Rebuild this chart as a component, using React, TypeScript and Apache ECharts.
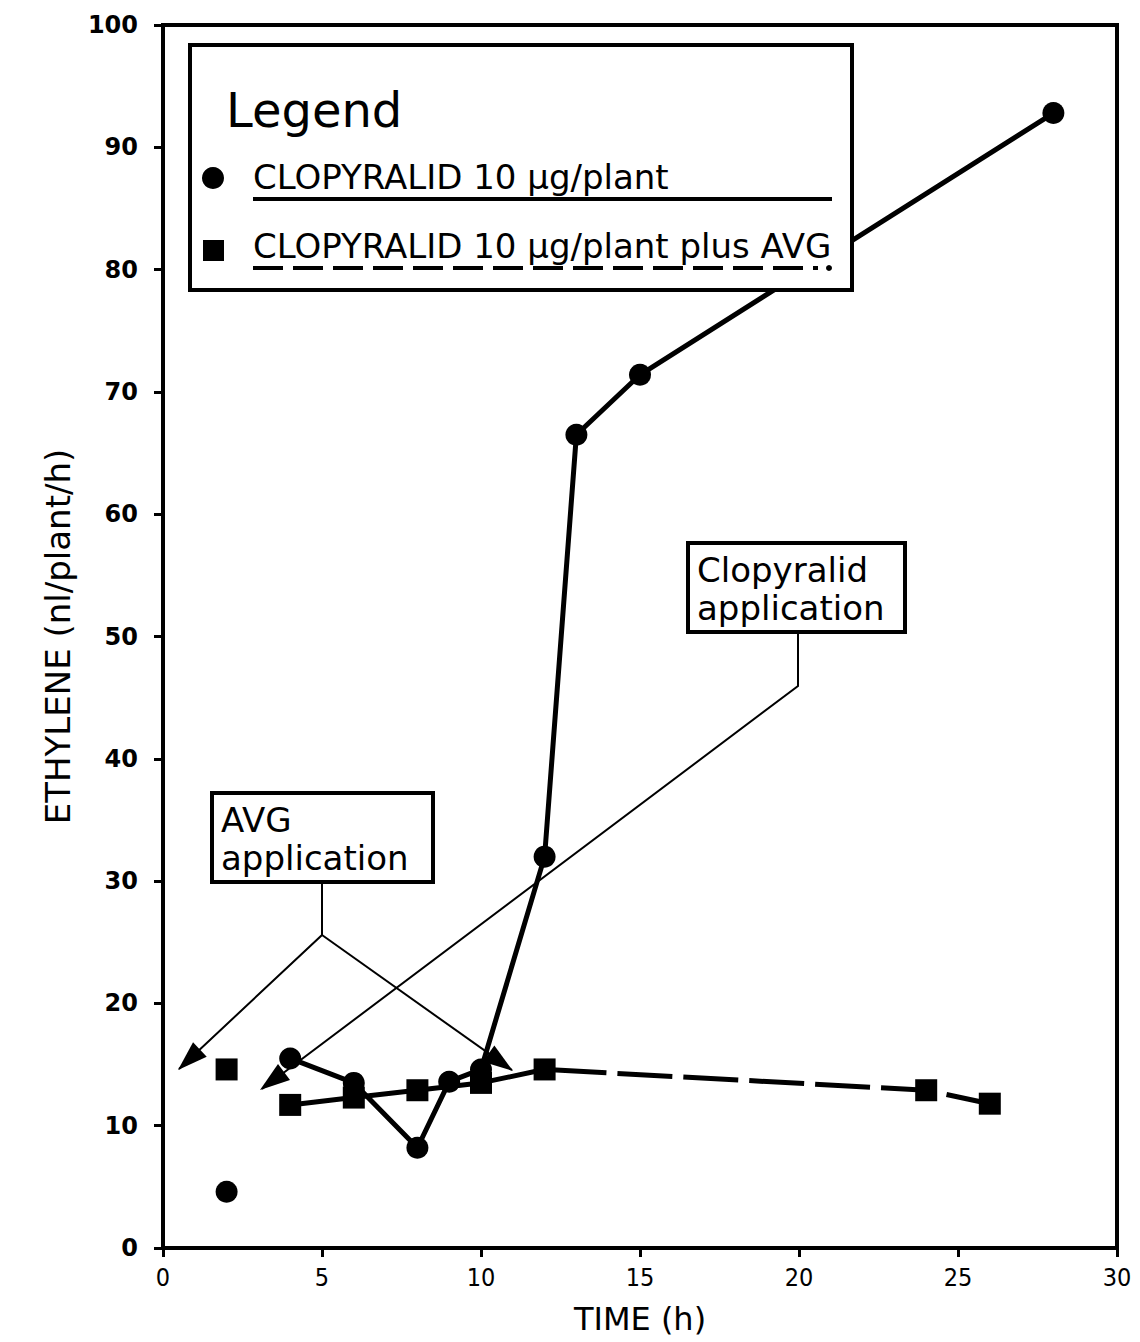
import React, { useEffect, useRef } from "react";
import * as echarts from "echarts";

// Clopyralid 10 µg/plant (circles)
const timesCircle = [2, 4, 6, 8, 9, 10, 12, 13, 15, 28];
const ethyleneCircle = [4.6, 15.5, 13.5, 8.2, 13.6, 14.6, 32.0, 66.5, 71.4, 92.8];
// Clopyralid 10 µg/plant plus AVG (squares)
const timesSquare = [2, 4, 6, 8, 10, 12, 24, 26];
const ethyleneSquare = [14.6, 11.7, 12.3, 12.9, 13.5, 14.6, 12.9, 11.8];

const xTicks = [0, 5, 10, 15, 20, 25, 30];
const yTicks = [0, 10, 20, 30, 40, 50, 60, 70, 80, 90, 100];

const legendLabels = [
  "CLOPYRALID 10 \u00b5g/plant",
  "CLOPYRALID 10 \u00b5g/plant plus AVG",
];

const FONT = '"DejaVu Sans", sans-serif';

function arrowHead(fx: number, fy: number, tx: number, ty: number, len = 30, half = 10) {
  const dx = tx - fx;
  const dy = ty - fy;
  const d = Math.sqrt(dx * dx + dy * dy);
  const ux = dx / d;
  const uy = dy / d;
  const bx = tx - ux * len;
  const by = ty - uy * len;
  return {
    type: "polygon",
    shape: {
      points: [
        [tx, ty],
        [bx - uy * half, by + ux * half],
        [bx + uy * half, by - ux * half],
      ],
    },
    style: { fill: "#000" },
    z: 20,
  };
}

export default function App() {
  const ref = useRef<HTMLDivElement>(null);
  useEffect(() => {
    const chart = echarts.init(ref.current!, null, { renderer: "svg" });
    const circlePts = timesCircle.map((t, i) => [t, ethyleneCircle[i]]);
    const squarePts = timesSquare.map((t, i) => [t, ethyleneSquare[i]]);

    const thin = { stroke: "#000", lineWidth: 2, fill: "none" };

    const graphic: any[] = [
      // legend box
      {
        type: "rect",
        shape: { x: 190, y: 45, width: 662, height: 245 },
        style: { fill: "#fff", stroke: "#000", lineWidth: 4 },
        z: 10,
      },
      {
        type: "text",
        x: 226,
        y: 110,
        style: { text: "Legend", font: `48px ${FONT}`, fill: "#000", verticalAlign: "middle" },
        z: 11,
      },
      { type: "circle", shape: { cx: 213, cy: 178, r: 11 }, style: { fill: "#000" }, z: 11 },
      {
        type: "text",
        x: 253,
        y: 177,
        style: { text: legendLabels[0], font: `34px ${FONT}`, fill: "#000", verticalAlign: "middle" },
        z: 11,
      },
      {
        type: "line",
        shape: { x1: 253, y1: 199, x2: 832, y2: 199 },
        style: { stroke: "#000", lineWidth: 4 },
        z: 11,
      },
      { type: "rect", shape: { x: 203, y: 240, width: 21, height: 21 }, style: { fill: "#000" }, z: 11 },
      {
        type: "text",
        x: 253,
        y: 246,
        style: { text: legendLabels[1], font: `34px ${FONT}`, fill: "#000", verticalAlign: "middle" },
        z: 11,
      },
      {
        type: "line",
        shape: { x1: 253, y1: 268, x2: 818, y2: 268 },
        style: { stroke: "#000", lineWidth: 4, lineDash: [30, 10] },
        z: 11,
      },
      { type: "circle", shape: { cx: 829, cy: 268, r: 3 }, style: { fill: "#000" }, z: 11 },

      // Clopyralid application annotation
      {
        type: "rect",
        shape: { x: 688, y: 543, width: 217, height: 89 },
        style: { fill: "#fff", stroke: "#000", lineWidth: 4 },
        z: 15,
      },
      {
        type: "text",
        x: 697,
        y: 570,
        style: { text: "Clopyralid", font: `34px ${FONT}`, fill: "#000", verticalAlign: "middle" },
        z: 16,
      },
      {
        type: "text",
        x: 697,
        y: 608,
        style: { text: "application", font: `34px ${FONT}`, fill: "#000", verticalAlign: "middle" },
        z: 16,
      },
      {
        type: "polyline",
        shape: { points: [[798, 632], [798, 686], [262, 1089]] },
        style: thin,
        z: 15,
      },
      arrowHead(798, 686, 260, 1090),

      // AVG application annotation
      {
        type: "rect",
        shape: { x: 212, y: 793, width: 221, height: 89 },
        style: { fill: "#fff", stroke: "#000", lineWidth: 4 },
        z: 15,
      },
      {
        type: "text",
        x: 221,
        y: 820,
        style: { text: "AVG", font: `34px ${FONT}`, fill: "#000", verticalAlign: "middle" },
        z: 16,
      },
      {
        type: "text",
        x: 221,
        y: 858,
        style: { text: "application", font: `34px ${FONT}`, fill: "#000", verticalAlign: "middle" },
        z: 16,
      },
      {
        type: "polyline",
        shape: { points: [[322, 882], [322, 935], [179, 1069]] },
        style: thin,
        z: 15,
      },
      {
        type: "line",
        shape: { x1: 322, y1: 935, x2: 512, y2: 1070 },
        style: { stroke: "#000", lineWidth: 2 },
        z: 15,
      },
      arrowHead(322, 935, 178, 1070),
      arrowHead(322, 935, 513, 1071),
    ];

    chart.setOption({
      animation: false,
      backgroundColor: "#fff",
      grid: {
        left: 163,
        right: 23,
        top: 25,
        bottom: 94,
        show: true,
        borderColor: "#000",
        borderWidth: 4,
        backgroundColor: "transparent",
      },
      xAxis: {
        type: "value",
        min: 0,
        max: 30,
        interval: 5,
        name: "TIME (h)",
        nameLocation: "middle",
        nameGap: 55,
        nameTextStyle: { fontFamily: FONT, fontSize: 32, color: "#000" },
        axisLine: { show: true, onZero: false, lineStyle: { color: "#000", width: 4 } },
        axisTick: { show: true, inside: false, length: 9, lineStyle: { color: "#000", width: 3 } },
        axisLabel: {
          margin: 17,
          fontFamily: '"DejaVu Sans Condensed", "DejaVu Sans", sans-serif',
          fontSize: 25,
          color: "#000",
          formatter: (v: number) => (xTicks.includes(v) ? String(v) : ""),
        },
        splitLine: { show: false },
      },
      yAxis: {
        type: "value",
        min: 0,
        max: 100,
        interval: 10,
        name: "ETHYLENE (nl/plant/h)",
        nameLocation: "middle",
        nameGap: 88,
        nameRotate: 90,
        nameTextStyle: { fontFamily: FONT, fontSize: 34, color: "#000" },
        axisLine: { show: true, onZero: false, lineStyle: { color: "#000", width: 4 } },
        axisTick: { show: true, inside: false, length: 9, lineStyle: { color: "#000", width: 3 } },
        axisLabel: {
          margin: 25,
          fontFamily: FONT,
          fontWeight: "bold",
          fontSize: 24,
          color: "#000",
          formatter: (v: number) => (yTicks.includes(v) ? String(v) : ""),
        },
        splitLine: { show: false },
      },
      legend: { show: false },
      series: [
        {
          name: legendLabels[1],
          type: "line",
          data: squarePts.slice(1),
          symbol: "rect",
          symbolSize: 22,
          lineStyle: { color: "#000", width: 5, type: [55, 11] },
          itemStyle: { color: "#000", opacity: 1 },
          z: 3,
        },
        {
          name: legendLabels[1] + " (isolated)",
          type: "scatter",
          data: squarePts.slice(0, 1),
          symbol: "rect",
          symbolSize: 22,
          itemStyle: { color: "#000", opacity: 1 },
          z: 3,
        },
        {
          name: legendLabels[0],
          type: "line",
          data: circlePts.slice(1),
          symbol: "circle",
          symbolSize: 22,
          lineStyle: { color: "#000", width: 5 },
          itemStyle: { color: "#000", opacity: 1 },
          z: 4,
        },
        {
          name: legendLabels[0] + " (isolated)",
          type: "scatter",
          data: circlePts.slice(0, 1),
          symbol: "circle",
          symbolSize: 22,
          itemStyle: { color: "#000", opacity: 1 },
          z: 4,
        },
      ],
      graphic,
    });
    return () => chart.dispose();
  }, []);
  return (
    <div
      ref={ref}
      style={{ position: "absolute", left: 0, top: 0, width: 1140, height: 1342, background: "#fff" }}
    />
  );
}
